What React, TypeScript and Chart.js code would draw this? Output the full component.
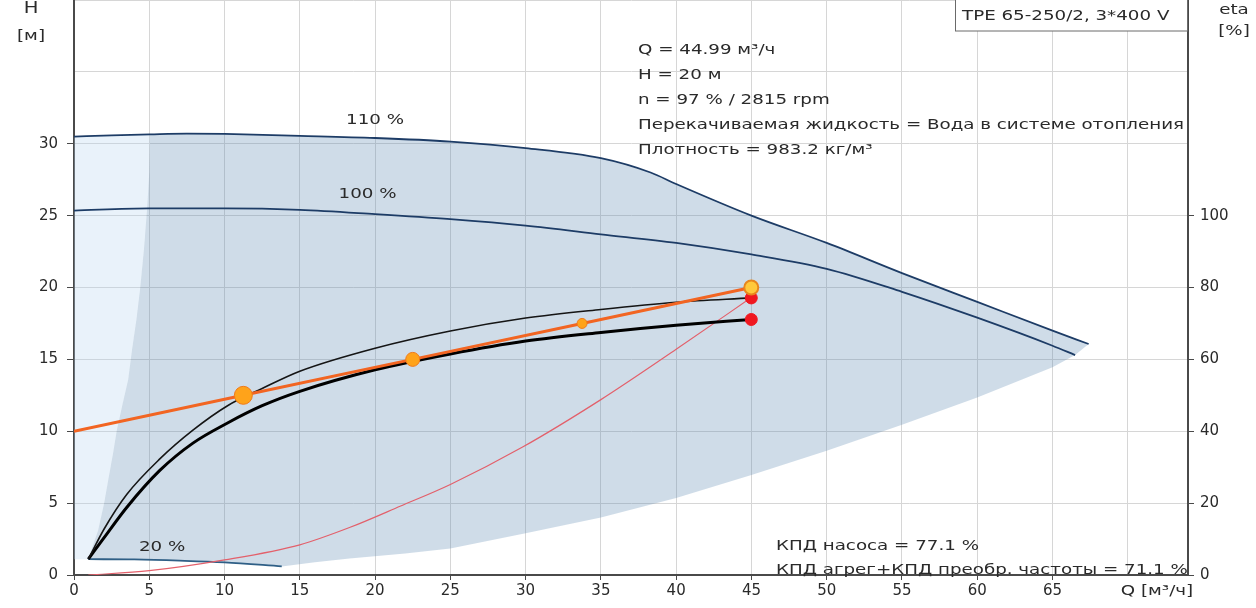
import { useEffect, useRef } from "react";
import { Chart, registerables } from "chart.js";

Chart.register(...registerables);

type P = [number, number];

// Head curves: [Q m³/h, H m]
const curve110: P[] = [[0, 30.5], [2.5, 30.58], [5.05, 30.65], [7.5, 30.7], [10, 30.68], [15, 30.55], [20, 30.4], [25, 30.15], [30, 29.7], [35, 29.0], [38.3, 28.0], [40, 27.2], [45, 25.0], [50, 23.1], [55, 21.0], [60, 19.0], [65, 17.0], [67.4, 16.07]];
const curve100: P[] = [[0, 25.35], [5, 25.5], [10, 25.5], [15, 25.4], [20, 25.1], [25, 24.75], [30, 24.3], [35, 23.7], [40, 23.1], [45, 22.3], [50, 21.3], [55, 19.7], [60, 17.9], [65, 15.95], [66.5, 15.3]];
const curve20: P[] = [[0.95, 1.1], [4, 1.08], [7, 1.0], [10, 0.88], [13.8, 0.6]];
// Operating-range boundaries
const leftBoundary: P[] = [[0.95, 1.1], [1.3, 2.2], [1.6, 3.1], [2.0, 5.0], [2.27, 6.6], [2.6, 8.5], [2.85, 10.1], [3.25, 12.0], [3.6, 13.6], [3.85, 15.65], [4.15, 17.8], [4.4, 20], [4.65, 22.7], [4.85, 25.4], [5.0, 28.0], [5.05, 30.65]];
const lowerBoundary: P[] = [[13.8, 0.6], [16, 0.88], [18.3, 1.15], [22, 1.5], [25, 1.85], [30, 2.9], [35, 4.0], [40, 5.35], [45, 6.95], [50, 8.65], [55, 10.45], [60, 12.35], [65, 14.45], [66.5, 15.3]];

// Efficiency curves (right axis, %)
const etaQ = [0.95, 2, 3.5, 5.7, 7.9, 10.2, 12.5, 15, 20, 25, 30, 35, 40, 44.99];
const etaPump = [4.4, 12.8, 22.4, 32.3, 40.3, 47.1, 51.9, 56.7, 63.1, 67.9, 71.5, 73.9, 75.9, 77.1];
const etaTotal = [4.4, 10.4, 18.8, 29.1, 36.7, 42.3, 47.1, 51.1, 57.1, 61.5, 65.1, 67.5, 69.5, 71.1];

// System curve (orange)
const systemQ = [0, 11.25, 22.5, 33.75, 44.99];
const systemH = [10, 12.5, 15, 17.5, 20];

// Thin red curve
const redQ = [0.95, 5, 10, 15, 18.3, 21.7, 25, 29.8, 35, 40, 44.99];
const redH = [0, 0.3, 1.05, 2.1, 3.3, 4.8, 6.3, 8.9, 12.2, 15.7, 19.3];

// Duty point
const dutyQ = 44.99;
const dutyEta = [77.1, 71.1];

// Tick settings
const qMax = 74;
const hMax = 40;
const hLabelMax = 30;
const etaMax = 160;
const etaLabelMax = 100;
const qLabelMax = 65;

const infoLines = [
  "Q = 44.99 м³/ч",
  "H = 20 м",
  "n = 97 % / 2815 rpm",
  "Перекачиваемая жидкость = Вода в системе отопления",
  "Плотность = 983.2 кг/м³",
];
const effLines = ["КПД насоса = 77.1 %", "КПД агрег+КПД преобр. частоты = 71.1 %"];
const pumpTitle = "TPE 65-250/2, 3*400 V";
const curveLabels: { text: string; q: number; h: number }[] = [
  { text: "110 %", q: 20, h: 31.65 },
  { text: "100 %", q: 19.5, h: 26.5 },
  { text: "20 %", q: 5.85, h: 1.9 },
];

const toXY = (pts: P[]) => pts.map(([x, y]) => ({ x, y }));
const zipXY = (xs: number[], ys: number[]) => xs.map((x, i) => ({ x, y: ys[i] }));

const FONT = '"DejaVu Sans", sans-serif';
const TXT = "#2a2a2a";
const AXIS = "#4a4a4a";

const annotPlugin = {
  id: "annot",
  afterDraw(chart: any) {
    const ctx = chart.ctx as CanvasRenderingContext2D;
    const xs = chart.scales.x;
    const ys = chart.scales.y;
    ctx.save();
    ctx.font = `14px ${FONT}`;
    ctx.fillStyle = TXT;
    const stretch = 546 / ctx.measureText(infoLines[3]).width;
    const put = (text: string, x: number, y: number, align: CanvasTextAlign = "left", size = 14) => {
      ctx.save();
      ctx.font = `${size}px ${FONT}`;
      ctx.translate(x, y);
      ctx.scale(stretch, 1);
      ctx.textAlign = align;
      ctx.textBaseline = "middle";
      ctx.fillText(text, 0, 0);
      ctx.restore();
    };
    // pump title box
    ctx.fillStyle = "#ffffff";
    ctx.fillRect(955, -1, 232, 32);
    ctx.strokeStyle = "#6a6a6a";
    ctx.lineWidth = 1;
    ctx.strokeRect(955.5, -1, 232, 32);
    ctx.fillStyle = TXT;
    put(pumpTitle, 962, 16);

    infoLines.forEach((l, i) => put(l, 638, 50 + i * 25));
    effLines.forEach((l, i) => put(l, 776, 546 + i * 24));
    curveLabels.forEach((c) => put(c.text, xs.getPixelForValue(c.q), ys.getPixelForValue(c.h), "center"));

    // axis titles
    put("H", 31, 9, "center", 15);
    put("[м]", 31, 36, "center", 14);
    put("eta", 1234, 10, "center", 14);
    put("[%]", 1234, 31, "center", 14);
    put("Q [м³/ч]", 1157, 591, "center", 14);
    ctx.restore();
  },
};

export default function App() {
  const ref = useRef<HTMLCanvasElement | null>(null);
  useEffect(() => {
    if (!ref.current) return;
    const darkRegion = [
      ...curve110.filter(([q]) => q >= 5.05),
      ...lowerBoundary.slice().reverse(),
      ...curve20.slice().reverse().slice(1),
      ...leftBoundary.slice(1),
    ];
    const lightRegion: P[] = [
      [0, 1.1],
      ...curve110.filter(([q]) => q <= 5.05),
      ...leftBoundary.slice().reverse().slice(1),
    ];
    const tickFont = { family: FONT, size: 15 };
    const chart = new Chart(ref.current, {
      type: "line",
      data: {
        datasets: [
          {
            label: "light",
            data: toXY(lightRegion),
            fill: "shape",
            backgroundColor: "rgba(182,212,238,0.3)",
            borderColor: "transparent",
            borderWidth: 0,
            pointRadius: 0,
            tension: 0,
            order: 11,
          },
          {
            label: "range",
            data: toXY(darkRegion),
            fill: "shape",
            backgroundColor: "rgba(95,138,178,0.3)",
            borderColor: "transparent",
            borderWidth: 0,
            pointRadius: 0,
            tension: 0,
            order: 10,
          },
          {
            label: "110 %",
            data: toXY(curve110),
            borderColor: "#1d3c66",
            borderWidth: 1.8,
            pointRadius: 0,
            cubicInterpolationMode: "monotone",
            order: 6,
          },
          {
            label: "100 %",
            data: toXY(curve100),
            borderColor: "#1d3c66",
            borderWidth: 1.8,
            pointRadius: 0,
            cubicInterpolationMode: "monotone",
            order: 6,
          },
          {
            label: "20 %",
            data: toXY(curve20),
            borderColor: "#2f5f86",
            borderWidth: 1.8,
            pointRadius: 0,
            cubicInterpolationMode: "monotone",
            order: 6,
          },
          {
            label: "red",
            data: zipXY(redQ, redH),
            borderColor: "#e3606b",
            borderWidth: 1.2,
            pointRadius: 0,
            cubicInterpolationMode: "monotone",
            order: 5,
          },
          {
            label: "eta pump",
            data: zipXY(etaQ, etaPump),
            yAxisID: "y1",
            borderColor: "#151515",
            borderWidth: 1.6,
            pointRadius: 0,
            cubicInterpolationMode: "monotone",
            order: 4,
          },
          {
            label: "eta total",
            data: zipXY(etaQ, etaTotal),
            yAxisID: "y1",
            borderColor: "#000000",
            borderWidth: 3,
            pointRadius: 0,
            cubicInterpolationMode: "monotone",
            order: 4,
          },
          {
            label: "system",
            data: zipXY(systemQ, systemH),
            borderColor: "#f26522",
            borderWidth: 3,
            pointRadius: [0, 9, 7, 5, 7],
            pointBackgroundColor: ["#ffa31a", "#ffa31a", "#ffa31a", "#ffa31a", "#ffc93c"],
            pointBorderColor: ["#f07a1a", "#f07a1a", "#f07a1a", "#f07a1a", "#e8871e"],
            pointBorderWidth: [1, 1, 1, 1, 2],
            tension: 0,
            order: 2,
          },
          {
            label: "duty eta",
            data: dutyEta.map((y) => ({ x: dutyQ, y })),
            yAxisID: "y1",
            showLine: false,
            pointRadius: 6,
            pointBackgroundColor: "#f01820",
            pointBorderColor: "#f01820",
            order: 3,
          },
        ],
      },
      options: {
        responsive: false,
        animation: false,
        events: [],
        layout: { padding: 0, autoPadding: false },
        plugins: { legend: { display: false }, tooltip: { enabled: false } },
        scales: {
          x: {
            type: "linear",
            min: 0,
            max: qMax,
            ticks: {
              stepSize: 5,
              includeBounds: false,
              autoSkip: false,
              maxRotation: 0,
              padding: 2,
              font: tickFont,
              color: TXT,
              callback: (v: any) => (v <= qLabelMax ? String(v) : ""),
            },
            grid: { color: "#d6d6d6", tickLength: 5, tickColor: (c: any) => (c.tick && c.tick.value > qLabelMax ? "transparent" : AXIS) },
            border: { color: AXIS, width: 2 },
            afterFit: (s: any) => {
              s.height = 33;
              s.paddingLeft = 0;
              s.paddingRight = 0;
            },
          },
          y: {
            type: "linear",
            position: "left",
            min: 0,
            max: hMax,
            ticks: {
              stepSize: 5,
              padding: 9,
              font: tickFont,
              color: TXT,
              callback: (v: any) => (v <= hLabelMax ? String(v) : ""),
            },
            grid: { color: "#d6d6d6", tickLength: 7, tickColor: (c: any) => (c.tick && c.tick.value > hLabelMax ? "transparent" : AXIS) },
            border: { color: AXIS, width: 2 },
            afterFit: (s: any) => {
              s.width = 74;
              s.paddingTop = 0;
              s.paddingBottom = 0;
            },
          },
          y1: {
            type: "linear",
            position: "right",
            min: 0,
            max: etaMax,
            ticks: {
              stepSize: 20,
              padding: 6,
              font: tickFont,
              color: TXT,
              callback: (v: any) => (v <= etaLabelMax ? String(v) : ""),
            },
            grid: { drawOnChartArea: false, tickLength: 6, tickColor: (c: any) => (c.tick && c.tick.value > etaLabelMax ? "transparent" : AXIS) },
            border: { color: AXIS, width: 2 },
            afterFit: (s: any) => {
              s.width = 68;
              s.paddingTop = 0;
              s.paddingBottom = 0;
            },
          },
        },
      },
      plugins: [annotPlugin],
    } as any);
    return () => chart.destroy();
  }, []);
  return (
    <div style={{ position: "absolute", left: 0, top: 0, width: 1256, height: 608, background: "#fff" }}>
      <canvas ref={ref} width={1256} height={608} style={{ display: "block" }} />
    </div>
  );
}
